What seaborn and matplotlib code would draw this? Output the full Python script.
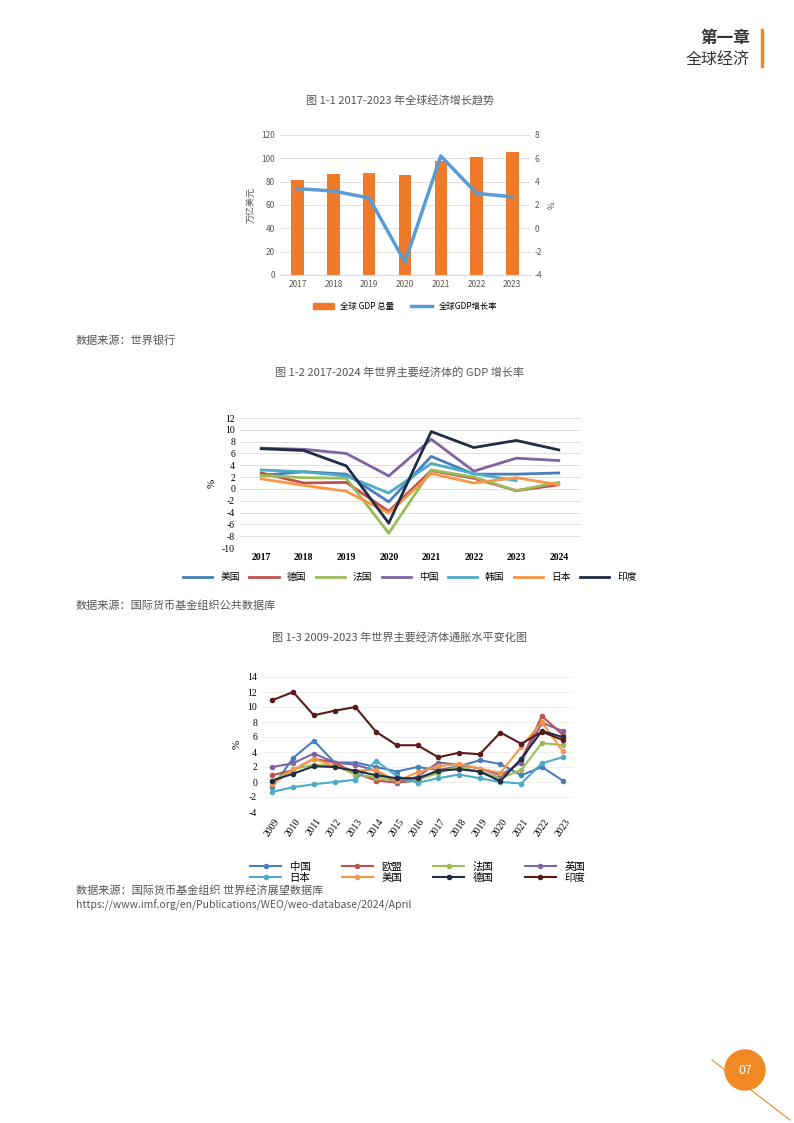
import numpy as np
import pandas as pd
import matplotlib
matplotlib.use("Agg")
import matplotlib.pyplot as plt
import seaborn as sns
from matplotlib.patches import Ellipse
from matplotlib.lines import Line2D

CJK = "Noto Sans CJK SC"
SERIF = "Liberation Serif"
plt.rcParams["font.family"] = [CJK]
plt.rcParams["axes.unicode_minus"] = False

# ── 图 1-1 数据 ──
years1 = ["2017", "2018", "2019", "2020", "2021", "2022", "2023"]
gdp_total = [81.4, 86.4, 87.7, 85.5, 97.5, 100.9, 105.4]
gdp_growth = [3.4, 3.2, 2.6, -2.9, 6.2, 3.0, 2.7]

# ── 图 1-2 数据 ──
years2 = ["2017", "2018", "2019", "2020", "2021", "2022", "2023", "2024"]
g_us = [2.3, 2.9, 2.5, -2.2, 5.5, 2.5, 2.5, 2.7]
g_de = [2.7, 1.0, 1.1, -3.8, 3.1, 1.8, -0.3, 0.7]
g_fr = [2.3, 1.9, 1.8, -7.5, 3.2, 2.0, -0.3, 1.1]
g_cn = [6.9, 6.7, 6.0, 2.2, 8.4, 3.0, 5.2, 4.8]
g_kr = [3.2, 2.9, 2.2, -0.7, 4.3, 2.6, 1.4, np.nan]
g_jp = [1.7, 0.6, -0.4, -4.1, 2.6, 1.0, 1.9, 0.7]
g_in = [6.8, 6.5, 3.9, -5.8, 9.7, 7.0, 8.2, 6.6]
names2 = ["美国", "德国", "法国", "中国", "韩国", "日本", "印度"]
colors2 = ["#4a7ebb", "#c0504d", "#9bbb59", "#8064a2", "#4bacc6", "#f79646", "#1f2d45"]

# ── 图 1-3 数据 ──
years3 = [str(y) for y in range(2009, 2024)]
i_cn = [-0.7, 3.2, 5.5, 2.6, 2.6, 2.0, 1.4, 2.0, 1.6, 2.1, 2.9, 2.4, 0.9, 2.0, 0.2]
i_eu = [0.9, 1.6, 3.1, 2.6, 1.2, 0.2, -0.1, 0.2, 1.6, 1.8, 1.4, 0.5, 2.9, 8.8, 6.3]
i_fr = [0.1, 1.7, 2.3, 2.2, 1.0, 0.6, 0.1, 0.3, 1.2, 2.1, 1.3, 0.5, 1.6, 5.2, 4.9]
i_uk = [2.0, 2.5, 3.8, 2.6, 2.3, 1.5, 0.0, 0.7, 2.6, 2.3, 1.8, 0.9, 2.6, 7.9, 6.8]
i_jp = [-1.3, -0.7, -0.3, 0.0, 0.3, 2.8, 0.8, -0.1, 0.5, 1.0, 0.5, 0.0, -0.2, 2.5, 3.3]
i_us = [-0.3, 1.6, 3.1, 2.1, 1.5, 1.6, 0.1, 1.3, 2.1, 2.4, 1.8, 1.2, 4.7, 8.0, 4.1]
i_de = [0.2, 1.1, 2.1, 2.0, 1.5, 0.9, 0.5, 0.5, 1.5, 1.7, 1.4, 0.1, 3.1, 6.8, 6.0]
i_in = [10.9, 12.0, 8.9, 9.5, 10.0, 6.7, 4.9, 4.9, 3.3, 3.9, 3.7, 6.6, 5.1, 6.7, 5.6]
names3 = ["中国", "欧盟", "法国", "英国", "日本", "美国", "德国", "印度"]
colors3 = ["#4a7ebb", "#c0504d", "#9bbb59", "#8064a2", "#4bacc6", "#f79646", "#1f2d45", "#5a1a1a"]

GRID = "#d9d9d9"
TXT = "#595959"

fig = plt.figure(figsize=(7.94, 11.23), dpi=100)

# ── 页眉 / 页脚 ──
fig.text(750 / 794, 1 - 38 / 1123, "第一章", ha="right", va="center", fontsize=12,
         fontweight="bold", color="#333333")
fig.text(750 / 794, 1 - 59 / 1123, "全球经济", ha="right", va="center", fontsize=11.5, color="#333333")
fig.add_artist(Line2D([762 / 794, 762 / 794], [1 - 30 / 1123, 1 - 66 / 1123],
                      color="#f08a24", lw=2.5))
fig.add_artist(Line2D([712 / 794, 790 / 794], [1 - 1060 / 1123, 1 - 1120 / 1123],
                      color="#f08a24", lw=0.8))
fig.add_artist(Ellipse((745 / 794, 1 - 1070 / 1123), 40 / 794, 40 / 1123,
                       transform=fig.transFigure, color="#f08a24"))
fig.text(745 / 794, 1 - 1070 / 1123, "07", ha="center", va="center", color="white", fontsize=9)

# ── 标题和来源 ──
title_kw = dict(ha="center", va="center", fontsize=8, color="#555555")
fig.text(400 / 794, 1 - 100 / 1123, "图 1-1 2017-2023 年全球经济增长趋势", **title_kw)
fig.text(400 / 794, 1 - 372 / 1123, "图 1-2 2017-2024 年世界主要经济体的 GDP 增长率", **title_kw)
fig.text(400 / 794, 1 - 637 / 1123, "图 1-3 2009-2023 年世界主要经济体通胀水平变化图", **title_kw)
src_kw = dict(ha="left", va="center", fontsize=8, color="#555555")
fig.text(76 / 794, 1 - 341 / 1123, "数据来源：世界银行", **src_kw)
fig.text(76 / 794, 1 - 606 / 1123, "数据来源：国际货币基金组织公共数据库", **src_kw)
fig.text(76 / 794, 1 - 890 / 1123, "数据来源：国际货币基金组织 世界经济展望数据库", **src_kw)
fig.text(76 / 794, 1 - 905 / 1123, "https://www.imf.org/en/Publications/WEO/weo-database/2024/April",
         ha="left", va="center", fontsize=7.5, color="#555555")

# ── 图 1-1 ──
ax1 = fig.add_axes([280 / 794, 1 - 275 / 1123, 250 / 794, 140 / 1123])
df1 = pd.DataFrame({"year": years1, "gdp": gdp_total, "growth": gdp_growth})
sns.barplot(data=df1, x="year", y="gdp", color="#ee7a2a", width=0.35, ax=ax1, saturation=1)
ax1.set_ylim(0, 120)
ax1.set_yticks(range(0, 121, 20))
ax1.set_ylabel("万亿美元", fontsize=6.5, color=TXT)
ax1.set_xlabel("")
ax1.grid(axis="y", color=GRID, lw=0.6)
ax1.set_axisbelow(True)
ax1b = ax1.twinx()
sns.lineplot(x=np.arange(len(years1)), y=df1["growth"], color="#5b9bd5", lw=2.5, ax=ax1b)
ax1b.set_ylim(-4, 8)
ax1b.set_yticks(range(-4, 9, 2))
ax1b.set_ylabel("%", fontsize=6, color=TXT)
for a in (ax1, ax1b):
    a.tick_params(labelsize=6, colors=TXT, length=0)
    for s in a.spines.values():
        s.set_visible(False)
ax1.spines["bottom"].set_visible(True)
ax1.spines["bottom"].set_color(GRID)
h = [plt.Rectangle((0, 0), 1, 1, color="#ee7a2a"), Line2D([], [], color="#5b9bd5", lw=2.5)]
ax1.legend(h, ["全球 GDP 总量", "全球GDP增长率"], loc="upper center", bbox_to_anchor=(0.5, -0.14),
           ncol=2, frameon=False, fontsize=6, handlelength=2.5)

# ── 图 1-2 ──
ax2 = fig.add_axes([240 / 794, 1 - 548 / 1123, 340 / 794, 130 / 1123])
rows = []
for n, vals in zip(names2, [g_us, g_de, g_fr, g_cn, g_kr, g_jp, g_in]):
    for y, v in zip(years2, vals):
        rows.append({"year": y, "country": n, "value": v})
df2 = pd.DataFrame(rows)
sns.lineplot(data=df2, x="year", y="value", hue="country", palette=colors2,
             hue_order=names2, lw=2, ax=ax2, sort=False)
ax2.set_ylim(-10, 12)
ax2.set_yticks(range(-10, 13, 2))
ax2.set_xlim(-0.5, 7.5)
ax2.set_xlabel("")
ax2.set_ylabel("%", fontsize=8, family=SERIF)
ax2.grid(axis="y", color=GRID, lw=0.6)
for s in ax2.spines.values():
    s.set_visible(False)
ax2.tick_params(length=0, labelsize=7)
for lbl in ax2.get_xticklabels():
    lbl.set_fontfamily(SERIF); lbl.set_fontweight("bold")
for lbl in ax2.get_yticklabels():
    lbl.set_fontfamily(SERIF)
ax2.legend(loc="upper center", bbox_to_anchor=(0.5, -0.12), ncol=7, frameon=False,
           fontsize=7, handlelength=3, columnspacing=1.0, title=None)

# ── 图 1-3 ──
ax3 = fig.add_axes([262 / 794, 1 - 812 / 1123, 311 / 794, 135 / 1123])
rows = []
for n, vals in zip(names3, [i_cn, i_eu, i_fr, i_uk, i_jp, i_us, i_de, i_in]):
    for y, v in zip(years3, vals):
        rows.append({"year": y, "country": n, "value": v})
df3 = pd.DataFrame(rows)
sns.lineplot(data=df3, x="year", y="value", hue="country", palette=colors3, hue_order=names3,
             marker="o", markersize=4, markeredgewidth=0, lw=1.5, ax=ax3, sort=False)
ax3.set_ylim(-4, 14)
ax3.set_yticks(range(-4, 15, 2))
ax3.set_xlim(-0.5, 14.5)
ax3.set_xlabel("")
ax3.set_ylabel("%", fontsize=8, family=SERIF)
ax3.grid(axis="y", color="#ececec", lw=0.6)
for s in ax3.spines.values():
    s.set_visible(False)
ax3.tick_params(length=0, labelsize=7)
ax3.tick_params(axis="x", rotation=55)
for lbl in ax3.get_xticklabels() + ax3.get_yticklabels():
    lbl.set_fontfamily(SERIF)
# 图例按行排列（matplotlib 按列填充，故重排）
handles, labels = ax3.get_legend_handles_labels()
order = [0, 4, 1, 5, 2, 6, 3, 7]
ax3.legend([handles[i] for i in order], [labels[i] for i in order],
           loc="upper center", bbox_to_anchor=(0.5, -0.3), ncol=4, frameon=False,
           fontsize=7.5, handlelength=3, columnspacing=3, labelspacing=0.05, title=None)

fig.savefig("out.png", dpi=100, facecolor="white")
